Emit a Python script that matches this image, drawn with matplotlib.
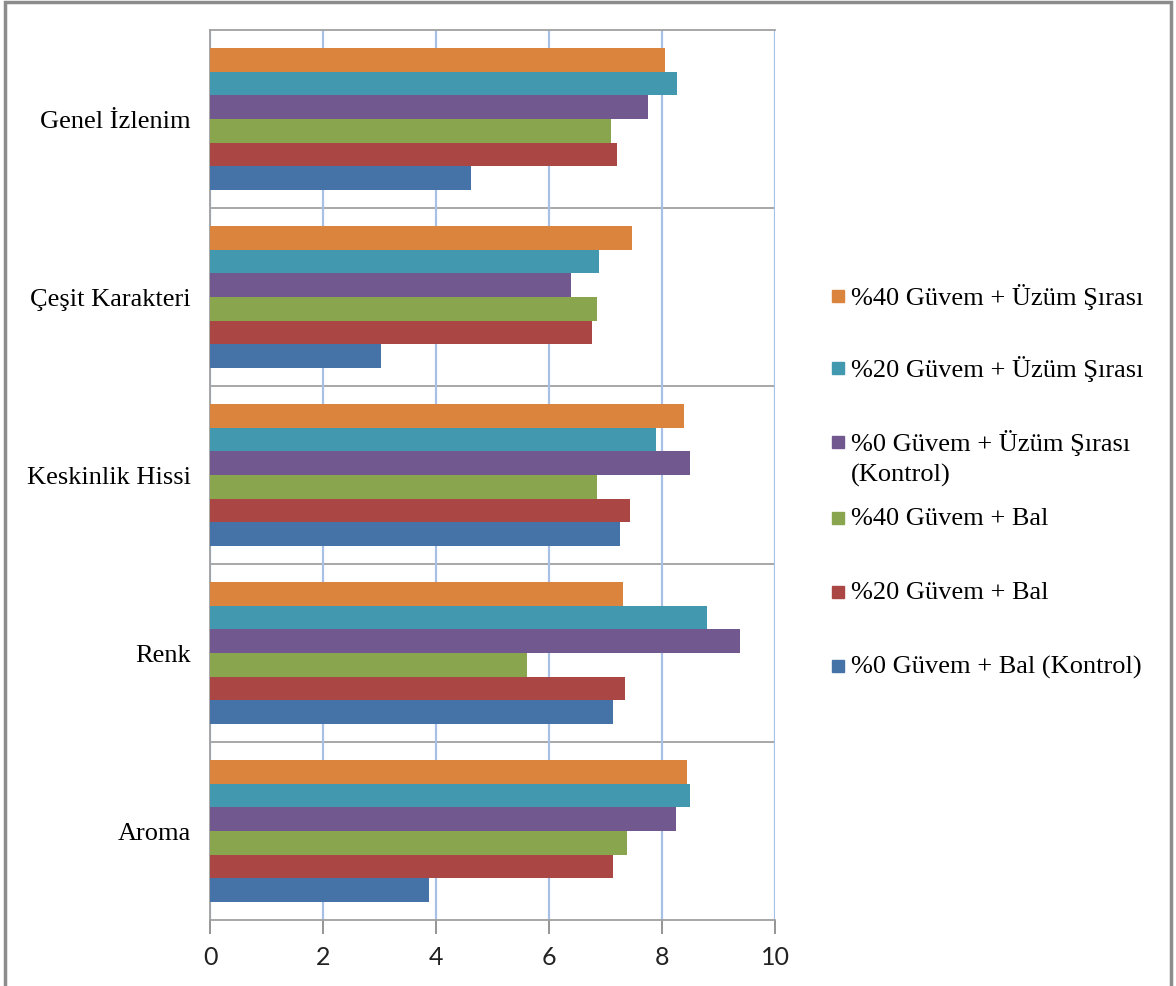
import matplotlib
matplotlib.use("Agg")
import matplotlib.pyplot as plt
import numpy as np
from matplotlib.patches import Rectangle

categories = ["Aroma", "Renk", "Keskinlik Hissi", "Çeşit Karakteri", "Genel İzlenim"]

series_names = [
    "%0 Güvem + Bal (Kontrol)",
    "%20 Güvem + Bal",
    "%40 Güvem + Bal",
    "%0 Güvem + Üzüm Şırası\n(Kontrol)",
    "%20 Güvem + Üzüm Şırası",
    "%40 Güvem + Üzüm Şırası",
]

bal_0 = [3.88, 7.13, 7.26, 3.03, 4.62]
bal_20 = [7.13, 7.35, 7.43, 6.76, 7.20]
bal_40 = [7.38, 5.61, 6.85, 6.85, 7.10]
uzum_0 = [8.25, 9.38, 8.50, 6.39, 7.75]
uzum_20 = [8.50, 8.80, 7.89, 6.88, 8.27]
uzum_40 = [8.44, 7.31, 8.39, 7.47, 8.05]

series_values = [bal_0, bal_20, bal_40, uzum_0, uzum_20, uzum_40]
colors = ["#4572A7", "#AA4643", "#89A54E", "#71588F", "#4198AF", "#DB843D"]

x_ticks = [0, 2, 4, 6, 8, 10]

SERIF = "Liberation Serif"
TEXT_SIZE = 19

fig = plt.figure(figsize=(11.76, 9.87), dpi=100)
W, H = 1176, 987
ax = fig.add_axes([210 / W, 1 - 921 / H, (775 - 210) / W, (921 - 31) / H])

n = len(series_values)
group_h = 0.8
bar_h = group_h / n
y = np.arange(len(categories))
for i, (vals, col) in enumerate(zip(series_values, colors)):
    offs = -group_h / 2 + bar_h * (i + 0.5)
    ax.barh(y + offs, vals, height=bar_h, color=col, zorder=3)

ax.set_xlim(0, 10)
ax.set_ylim(-0.5, len(categories) - 0.5)
ax.set_xticks(x_ticks)
ax.set_xticklabels([str(t) for t in x_ticks], fontfamily="Lato", fontsize=18, color="#222222")
ax.set_yticks(y)
ax.set_yticklabels(categories, fontfamily=SERIF, fontsize=TEXT_SIZE, va="center_baseline")
ax.tick_params(axis="y", length=0, pad=14)
ax.tick_params(axis="x", length=10, width=1.3, color="#8c8c8c", pad=8)

# vertical gridlines
ax.grid(axis="x", color="#a8c0e6", linewidth=1.6, zorder=0)
# category separators
for b in np.arange(0.5, len(categories) - 0.5, 1.0):
    ax.axhline(b, color="#a0a0a0", linewidth=1.3, zorder=1)

for side in ["left", "bottom", "top"]:
    ax.spines[side].set_color("#a0a0a0")
    ax.spines[side].set_linewidth(1.3)
ax.spines["right"].set_visible(False)

# legend: colour squares with labels, top entry first
legend_rows = [297, 369, 443, 519, 593, 667]
for name, col, ry in zip(series_names[::-1], colors[::-1], legend_rows):
    fig.patches.append(Rectangle((832 / W, 1 - (ry + 6) / H), 12 / W, 12 / H,
                                 transform=fig.transFigure, color=col))
    for k, line in enumerate(name.split("\n")):
        fig.text(851 / W, 1 - (ry + 32 * k) / H, line, fontfamily=SERIF,
                 fontsize=TEXT_SIZE, va="center", ha="left")

# outer chart frame
fig.patches.append(Rectangle((5 / W, -0.01), (1171 - 5) / W, 1.01 - 3 / H,
                             transform=fig.transFigure, fill=False,
                             edgecolor="#8c8c8c", linewidth=2.5))

fig.savefig("out.png", dpi=100)
